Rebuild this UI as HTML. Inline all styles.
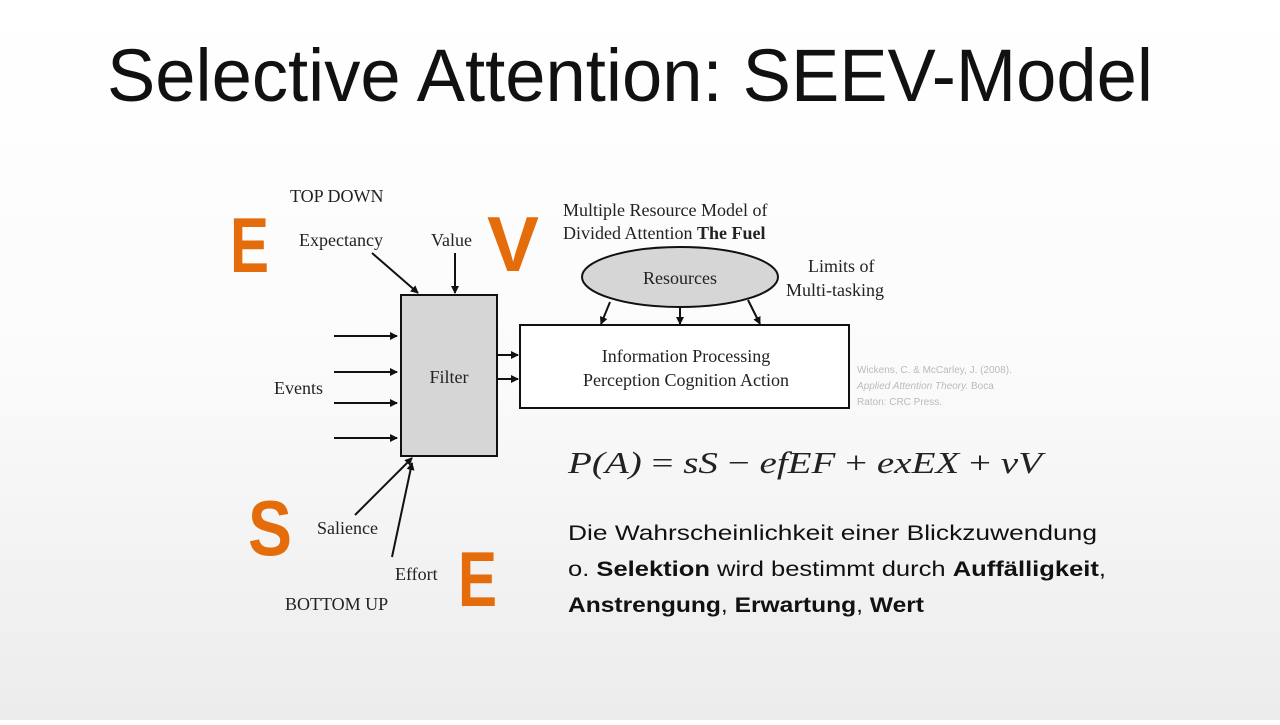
<!DOCTYPE html>
<html><head><meta charset="utf-8"><style>
html,body{margin:0;padding:0}
body{width:1280px;height:720px;overflow:hidden;background:linear-gradient(180deg,#ffffff 0%,#fbfbfb 50%,#ececec 100%);font-family:"Liberation Sans",sans-serif;}
</style></head><body>
<svg width="1280" height="720" xmlns="http://www.w3.org/2000/svg">
<defs><marker id="a" markerWidth="8" markerHeight="8" refX="7" refY="4" orient="auto" markerUnits="userSpaceOnUse"><path d="M0,0 L8,4 L0,8 z" fill="#111"/></marker></defs>
<text x="107" y="101" font-family="Liberation Sans, sans-serif" font-size="74" fill="#111" textLength="1046" lengthAdjust="spacingAndGlyphs">Selective Attention: SEEV-Model</text>
<rect x="401" y="295" width="96" height="161" fill="#d6d6d6" stroke="#111" stroke-width="2"/>
<rect x="520" y="325" width="329" height="83" fill="#fff" stroke="#111" stroke-width="2"/>
<ellipse cx="680" cy="277" rx="98" ry="30" fill="#d6d6d6" stroke="#111" stroke-width="2"/>
<g font-family="Liberation Serif, serif" font-size="18" fill="#222">
<text x="290" y="202">TOP DOWN</text>
<text x="299" y="246">Expectancy</text>
<text x="431" y="246">Value</text>
<text x="563" y="216">Multiple Resource Model of</text>
<text x="563" y="239">Divided Attention <tspan font-weight="bold">The Fuel</tspan></text>
<text x="808" y="272">Limits of</text>
<text x="786" y="296">Multi-tasking</text>
<text x="274" y="394">Events</text>
<text x="317" y="534">Salience</text>
<text x="395" y="580">Effort</text>
<text x="285" y="610">BOTTOM UP</text>
<text x="680" y="284" text-anchor="middle">Resources</text>
<text x="449" y="383" text-anchor="middle">Filter</text>
<text x="686" y="362" text-anchor="middle">Information Processing</text>
<text x="686" y="386" text-anchor="middle">Perception Cognition Action</text>
</g>
<g stroke="#111" stroke-width="2" marker-end="url(#a)">
<line x1="334" y1="336" x2="397" y2="336"/><line x1="334" y1="372" x2="397" y2="372"/>
<line x1="334" y1="403" x2="397" y2="403"/><line x1="334" y1="438" x2="397" y2="438"/>
<line x1="497" y1="355" x2="518" y2="355"/><line x1="497" y1="379" x2="518" y2="379"/>
<line x1="372" y1="253" x2="418" y2="293"/><line x1="455" y1="253" x2="455" y2="293"/>
<line x1="355" y1="515" x2="412" y2="458"/><line x1="392" y1="557" x2="412" y2="463"/>
<line x1="610" y1="302" x2="601" y2="324"/><line x1="680" y1="307" x2="680" y2="324"/><line x1="748" y1="300" x2="760" y2="324"/>
</g>
<g font-family="Liberation Sans, sans-serif" font-weight="bold" font-size="78" fill="#e46c0a">
<text x="230" y="272" textLength="39" lengthAdjust="spacingAndGlyphs">E</text>
<text x="487" y="271" textLength="52" lengthAdjust="spacingAndGlyphs">V</text>
<text x="248" y="555" textLength="44" lengthAdjust="spacingAndGlyphs">S</text>
<text x="458" y="606" textLength="39" lengthAdjust="spacingAndGlyphs">E</text>
</g>
<g font-family="Liberation Sans, sans-serif" font-size="10" fill="#bbb">
<text x="857" y="373">Wickens, C. &amp; McCarley, J. (2008).</text>
<text x="857" y="389"><tspan font-style="italic">Applied Attention Theory.</tspan> Boca</text>
<text x="857" y="405">Raton: CRC Press.</text>
</g>
<text x="568" y="473" font-family="Liberation Serif, serif" font-style="italic" font-size="31" fill="#222" textLength="474" lengthAdjust="spacingAndGlyphs">P(A) <tspan font-style="normal">=</tspan> sS <tspan font-style="normal">−</tspan> efEF <tspan font-style="normal">+</tspan> exEX <tspan font-style="normal">+</tspan> vV</text>
<g font-family="Liberation Sans, sans-serif" font-size="21" fill="#111">
<text x="568" y="540" textLength="529" lengthAdjust="spacingAndGlyphs">Die Wahrscheinlichkeit  einer Blickzuwendung</text>
<text x="568" y="576" textLength="538" lengthAdjust="spacingAndGlyphs">o. <tspan font-weight="bold">Selektion</tspan> wird bestimmt durch <tspan font-weight="bold">Auffälligkeit</tspan>,</text>
<text x="568" y="612" font-weight="bold" textLength="356" lengthAdjust="spacingAndGlyphs">Anstrengung<tspan font-weight="normal">,</tspan> Erwartung<tspan font-weight="normal">,</tspan> Wert</text>
</g>
</svg>
</body></html>
